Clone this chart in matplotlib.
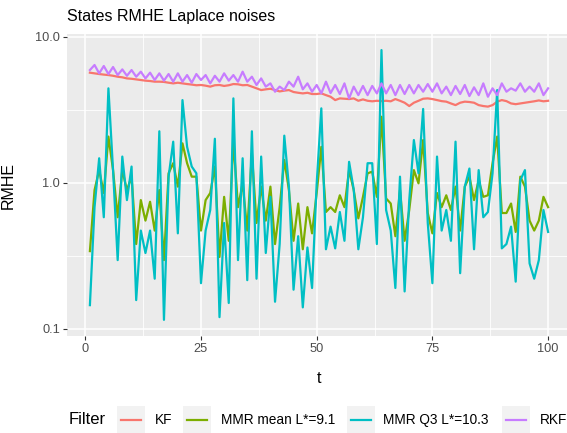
import numpy as np
import matplotlib
matplotlib.use("Agg")
import matplotlib.pyplot as plt
from matplotlib.patches import Rectangle
from matplotlib.lines import Line2D

plt.rcParams['font.family'] = ['Liberation Sans', 'DejaVu Sans']

# datos
t = np.arange(1, 101)

kf = [5.67, 5.61, 5.55, 5.50, 5.46, 5.40, 5.32, 5.27, 5.18, 5.15,
      5.10, 5.05, 5.00, 4.97, 4.92, 4.92, 4.90, 4.84, 4.79, 4.84,
      4.79, 4.74, 4.70, 4.65, 4.67, 4.62, 4.55, 4.65, 4.67, 4.60,
      4.65, 4.74, 4.72, 4.65, 4.67, 4.55, 4.43, 4.31, 4.36, 4.40,
      4.31, 4.22, 4.27, 4.31, 4.18, 4.13, 4.09, 4.13, 4.05, 4.05,
      4.09, 3.98, 3.88, 3.68, 3.78, 3.76, 3.74, 3.78, 3.64, 3.72,
      3.64, 3.61, 3.64, 3.62, 3.64, 3.61, 3.74, 3.64, 3.53, 3.35,
      3.53, 3.64, 3.76, 3.78, 3.74, 3.68, 3.62, 3.59, 3.49, 3.40,
      3.53, 3.59, 3.57, 3.53, 3.40, 3.35, 3.32, 3.40, 3.59, 3.68,
      3.62, 3.49, 3.45, 3.49, 3.53, 3.57, 3.61, 3.66, 3.61, 3.64]

mmr_mean = [0.34, 0.89, 1.22, 0.85, 2.07, 1.22, 0.58, 1.22, 0.89, 1.10,
            0.38, 0.76, 0.55, 0.74, 0.47, 0.89, 0.295, 1.16, 1.36, 0.94,
            1.86, 1.36, 1.10, 1.10, 0.47, 0.76, 0.85, 1.29, 0.31, 0.80,
            0.40, 1.96, 0.68, 0.99, 0.47, 1.59, 0.53, 0.94, 0.55, 0.94,
            0.38, 0.68, 1.43, 0.89, 0.40, 0.72, 0.35, 0.68, 0.45, 0.85,
            1.76, 0.63, 0.68, 0.63, 0.82, 0.68, 1.22, 0.89, 0.57, 0.80,
            1.16, 1.19, 0.80, 2.83, 0.78, 0.72, 0.43, 0.89, 0.40, 0.65,
            1.22, 0.99, 1.96, 0.62, 0.45, 0.85, 0.68, 0.82, 0.65, 0.94,
            0.47, 0.94, 1.10, 0.76, 1.04, 0.80, 0.82, 1.36, 2.07, 0.62,
            0.62, 0.72, 0.46, 1.10, 0.94, 0.55, 0.47, 0.55, 0.80, 0.68]

mmr_q3 = [0.145, 0.68, 1.47, 0.58, 4.43, 1.22, 0.295, 1.51, 0.76, 1.29,
          0.157, 0.47, 0.33, 0.47, 0.22, 2.25, 0.115, 1.10, 1.91, 0.45,
          3.68, 1.76, 1.29, 1.16, 0.205, 0.47, 0.65, 2.00, 0.12, 0.53,
          0.15, 3.78, 0.295, 1.47, 0.215, 2.25, 0.22, 1.51, 0.33, 0.80,
          0.153, 0.38, 2.10, 0.94, 0.185, 0.43, 0.14, 0.36, 0.19, 0.99,
          3.23, 0.35, 0.50, 0.355, 0.63, 0.40, 1.39, 0.90, 0.35, 0.58,
          1.36, 1.36, 0.38, 8.10, 0.65, 0.47, 0.19, 1.10, 0.18, 0.76,
          1.96, 1.16, 3.20, 0.53, 0.205, 1.51, 0.47, 0.65, 0.40, 1.91,
          0.24, 0.94, 1.25, 0.35, 1.22, 0.58, 0.63, 1.16, 4.31, 0.355,
          0.38, 0.50, 0.21, 1.04, 1.22, 0.28, 0.22, 0.295, 0.65, 0.46]

rkf = [5.91, 6.40, 5.61, 6.30, 5.55, 6.20, 5.46, 5.97, 5.40, 5.91,
       5.32, 5.76, 5.18, 5.67, 5.05, 5.61, 5.00, 5.55, 4.92, 5.61,
       4.92, 5.46, 4.84, 5.55, 5.05, 5.46, 4.79, 5.40, 4.92, 5.61,
       5.00, 5.46, 4.92, 5.76, 4.92, 5.32, 4.67, 5.18, 4.55, 4.79,
       4.20, 4.55, 4.31, 4.92, 4.55, 5.32, 4.36, 4.79, 4.20, 4.67,
       4.09, 4.92, 4.11, 4.67, 4.05, 4.79, 3.78, 4.55, 3.98, 4.60,
       3.98, 4.60, 4.09, 4.79, 4.09, 4.67, 3.98, 4.67, 4.05, 4.67,
       4.09, 4.67, 4.20, 4.74, 4.20, 4.79, 4.09, 4.55, 3.98, 4.60,
       4.05, 4.67, 3.92, 4.50, 3.98, 4.79, 3.88, 4.43, 3.98, 4.79,
       4.20, 4.43, 4.27, 4.79, 4.20, 4.55, 4.20, 4.79, 3.98, 4.43]

series = [kf, mmr_mean, mmr_q3, rkf]
etiquetas = ['KF', 'MMR mean L*=9.1', 'MMR Q3 L*=10.3', 'RKF']
colores = ['#F8766D', '#7CAE00', '#00BFC4', '#C77CFF']

W, H = 567, 433
fig = plt.figure(figsize=(W / 100, H / 100), dpi=100)

# panel (se sale por la derecha como en la imagen original)
left, right, top, bottom = 67, 571, 34, 336
ax = fig.add_axes([left / W, 1 - bottom / H, (right - left) / W, (bottom - top) / H])
ax.set_facecolor('#EBEBEB')
for s in ax.spines.values():
    s.set_visible(False)

ax.set_yscale('log')
ax.set_xlim(-3.95, 104.95)
ax.set_ylim(10 ** -1.05, 10 ** 1.0185)

# rejilla estilo ggplot
for x in [12.5, 37.5, 62.5, 87.5]:
    ax.axvline(x, color='white', lw=0.6, zorder=0.5)
for y in [10 ** -0.5, 10 ** 0.5]:
    ax.axhline(y, color='white', lw=0.6, zorder=0.5)
for x in [0, 25, 50, 75, 100]:
    ax.axvline(x, color='white', lw=1.1, zorder=0.6)
for y in [0.1, 1, 10]:
    ax.axhline(y, color='white', lw=1.1, zorder=0.6)

for vals, col in zip(series, colores):
    ax.plot(t, vals, color=col, lw=1.6, zorder=2)

ax.set_xticks([0, 25, 50, 75, 100])
ax.set_yticks([0.1, 1, 10])
ax.set_yticklabels(['0.1', '1.0', '10.0'])
ax.yaxis.set_minor_locator(matplotlib.ticker.NullLocator())
ax.tick_params(axis='both', length=3, width=0.8, color='#333333',
               labelcolor='#4D4D4D', labelsize=9.2, pad=2)

ax.set_xlabel('t', fontsize=11.5, color='black')
ax.set_ylabel('RMHE', fontsize=11.5, color='black')
ax.xaxis.set_label_coords(0.5, -0.116)
ax.yaxis.set_label_coords(-0.101, 0.5)

fig.text(left / W, 1 - 17 / H, 'States RMHE Laplace noises', fontsize=11.5,
         va='center', ha='left')

# leyenda manual abajo (cortada a la derecha)
ly = 420
fig.text(69 / W, 1 - ly / H, 'Filter', fontsize=12, va='center', ha='left')
cajas = [117, 183, 347, 502]
textos_x = [155, 221, 383, 540]
for cx, tx, lab, col in zip(cajas, textos_x, etiquetas, colores):
    fig.patches.append(Rectangle((cx / W, 1 - 434 / H), 28 / W, 28 / H,
                                 transform=fig.transFigure, facecolor='#F2F2F2',
                                 edgecolor='none'))
    fig.lines.append(Line2D([(cx + 4) / W, (cx + 24) / W], [1 - ly / H] * 2,
                            transform=fig.transFigure, color=col, lw=1.6))
    fig.text(tx / W, 1 - ly / H, lab, fontsize=9.8, va='center', ha='left')

fig.savefig('out.png', dpi=100)
